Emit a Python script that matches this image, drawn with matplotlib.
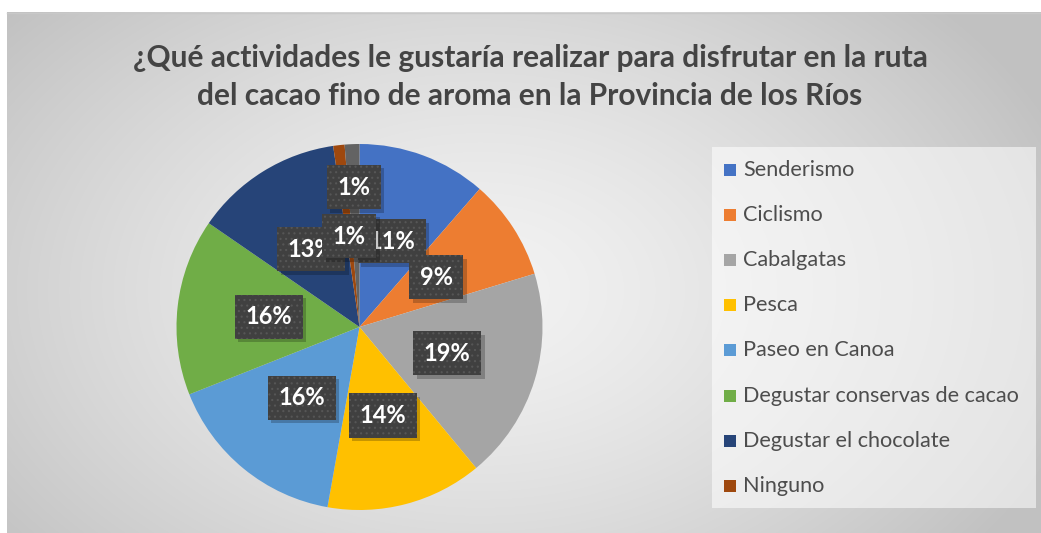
import numpy as np
import matplotlib
matplotlib.use("Agg")
import matplotlib.pyplot as plt
from matplotlib.patches import Rectangle
from matplotlib.transforms import offset_copy

# data (percent of answers)
actividades = ['Senderismo', 'Ciclismo', 'Cabalgatas', 'Pesca', 'Paseo en Canoa',
               'Degustar conservas de cacao', 'Degustar el chocolate', 'Ninguno', '']
valores = [11.4, 8.9, 18.7, 13.8, 16.2, 15.6, 13.1, 1.0, 1.3]
colores = ['#4472C4', '#ED7D31', '#A5A5A5', '#FFC000', '#5B9BD5',
           '#70AD47', '#264478', '#9E480E', '#636363']
titulo = ('¿Qué actividades le gustaría realizar para disfrutar en la ruta\n'
          'del cacao fino de aroma en la Provincia de los Ríos')

plt.rcParams['font.family'] = ['Lato', 'DejaVu Sans']
plt.rcParams['hatch.linewidth'] = 0.8

W, H = 1041, 533
fig = plt.figure(figsize=(W / 100, H / 100), dpi=100)
fig.patch.set_facecolor('white')

# background with radial gradient
bg = fig.add_axes([0, 0, 1, 1])
bg.set_xlim(0, W)
bg.set_ylim(H, 0)
bg.axis('off')
yy, xx = np.mgrid[12:H, 7:W]
d = np.hypot((xx - 480) / 620, (yy - 290) / 420)
d = np.clip(d, 0, 1)
g = 0.95 - 0.19 * d ** 1.4
bg.imshow(np.dstack([g, g, g]), extent=(7, W, H, 12), interpolation='bilinear', zorder=0)
bg.plot([7, W], [12.5, 12.5], color='#c8c8c8', lw=1, zorder=1)

# legend box: whitish overlay
bg.add_patch(Rectangle((712, 147), 324, 361, facecolor='white', alpha=0.55,
                       edgecolor='none', zorder=2))
for i, (nombre, col) in enumerate(zip(actividades[:8], colores[:8])):
    yc = 170 + 45.1 * i
    bg.add_patch(Rectangle((724, yc - 6), 12, 12, facecolor=col, edgecolor='none', zorder=3))
    bg.text(743, yc, nombre, fontsize=15.6, color='#4d4d4d', va='center', ha='left', zorder=3)

fig.text(530 / W, 1 - 77 / H, titulo, ha='center', va='center', fontsize=21.5,
         fontweight='bold', color='#444444', linespacing=1.42)

# pie
cx, cy, r = 359.5, 327, 183
ax = fig.add_axes([(cx - r) / W, (H - cy - r) / H, 2 * r / W, 2 * r / H])
wedges, texts, autotexts = ax.pie(valores, colors=colores, startangle=90, counterclock=False,
                                  autopct=lambda p: f'{p:.0f}%', pctdistance=0.5,
                                  wedgeprops=dict(linewidth=0),
                                  textprops=dict(color='white', fontsize=17, fontweight='bold'))
ax.set_xlim(-1, 1)
ax.set_ylim(-1, 1)
ax.set_aspect('equal')

# the last small label was pushed outwards
x0, y0 = autotexts[-1].get_position()
autotexts[-1].set_position((x0 * 1.53, y0 * 1.53))

for k, t in enumerate(autotexts):
    x, y = t.get_position()
    base = 10 + 2 * k
    sh = ax.text(x, y, t.get_text(), fontsize=17, fontweight='bold', color='none',
                 ha='center', va='center',
                 transform=offset_copy(ax.transData, fig=fig, x=2.5, y=-2.5, units='points'),
                 bbox=dict(boxstyle='square,pad=0.45', facecolor='black', alpha=0.22,
                           edgecolor='none'))
    sh.set_zorder(base)
    t.set_bbox(dict(boxstyle='square,pad=0.45', facecolor='#404040', edgecolor='#565656',
                    linewidth=0, hatch='...'))
    t.set_zorder(base + 1)

fig.savefig('out.png', dpi=100)
